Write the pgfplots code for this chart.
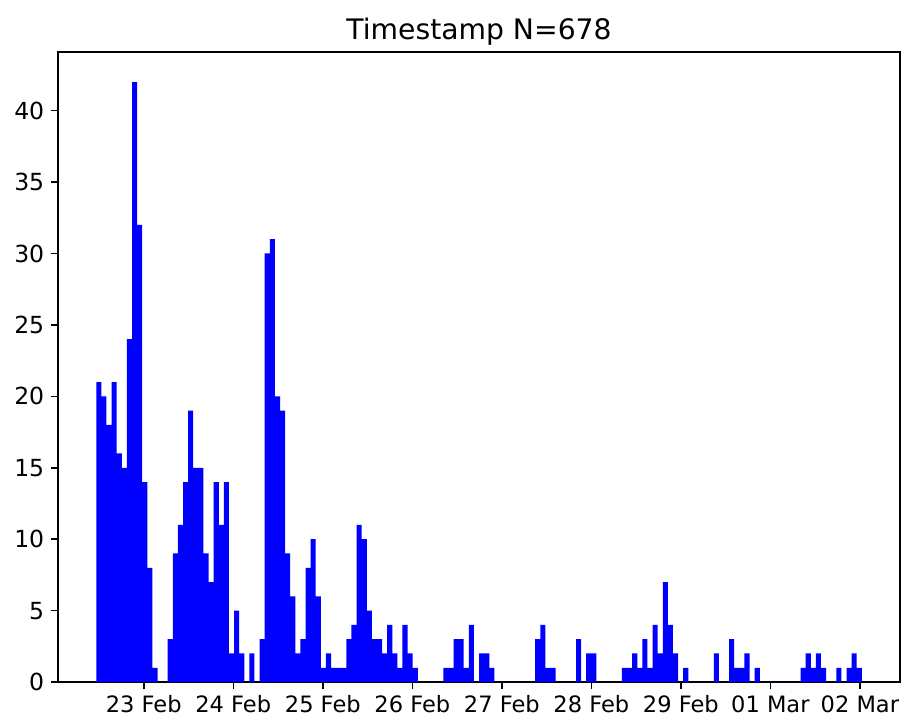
\documentclass[border=0pt]{standalone}
\usepackage{fontspec}
\setmainfont{DejaVu Sans}
\usepackage{pgfplots}
\pgfplotsset{compat=1.18}
\usepackage{pgfplotstable}
\pgfplotstableread{
bin count
0 21
1 20
2 18
3 21
4 16
5 15
6 24
7 42
8 32
9 14
10 8
11 1
12 0
13 0
14 3
15 9
16 11
17 14
18 19
19 15
20 15
21 9
22 7
23 14
24 11
25 14
26 2
27 5
28 2
29 0
30 2
31 0
32 3
33 30
34 31
35 20
36 19
37 9
38 6
39 2
40 3
41 8
42 10
43 6
44 1
45 2
46 1
47 1
48 1
49 3
50 4
51 11
52 10
53 5
54 3
55 3
56 2
57 4
58 2
59 1
60 4
61 2
62 1
63 0
64 0
65 0
66 0
67 0
68 1
69 1
70 3
71 3
72 1
73 4
74 0
75 2
76 2
77 1
78 0
79 0
80 0
81 0
82 0
83 0
84 0
85 0
86 3
87 4
88 1
89 1
90 0
91 0
92 0
93 0
94 3
95 0
96 2
97 2
98 0
99 0
100 0
101 0
102 0
103 1
104 1
105 2
106 1
107 3
108 1
109 4
110 2
111 7
112 4
113 2
114 0
115 1
116 0
117 0
118 0
119 0
120 0
121 2
122 0
123 0
124 3
125 1
126 1
127 2
128 0
129 1
130 0
131 0
132 0
133 0
134 0
135 0
136 0
137 0
138 1
139 2
140 1
141 2
142 1
143 0
144 0
145 1
146 0
147 1
148 2
149 1
150 0
}\histdata
\begin{document}
\begin{tikzpicture}
\path[use as bounding box] (-29.59pt,-20.41pt) rectangle (432.1pt,347.96pt);
\begin{axis}[
  at={(0,0)}, anchor=south west,
  scale only axis, width=429.6pt, height=321.4pt,
  xmin=-7.5, xmax=157.5, ymin=0, ymax=44.1,
  axis line style={line width=0.8pt, black},
  tick style={line width=0.8pt, black},
  major tick length=3.5pt, tick align=outside, tick pos=left,
  minor tick num=0,
  xtick={9.305,26.845,44.385,61.925,79.465,97.005,114.545,132.085,149.625},
  xticklabels={23 Feb,24 Feb,25 Feb,26 Feb,27 Feb,28 Feb,29 Feb,01 Mar,02 Mar},
  ytick={0,5,10,15,20,25,30,35,40},
  yticklabel style={font=\fontsize{12}{14}\selectfont},
  xticklabel style={font=\fontsize{11.5}{14}\selectfont},
  /pgf/number format/assume math mode=true,
  title={Timestamp N=678},
  every axis title/.style={at={(0.5,1)}, anchor=base, yshift=6.3pt, font=\fontsize{14.4}{17}\selectfont},
]
\addplot[ybar interval, fill=blue, draw=none] table[x=bin,y=count]{\histdata};
\end{axis}
\end{tikzpicture}
\end{document}
